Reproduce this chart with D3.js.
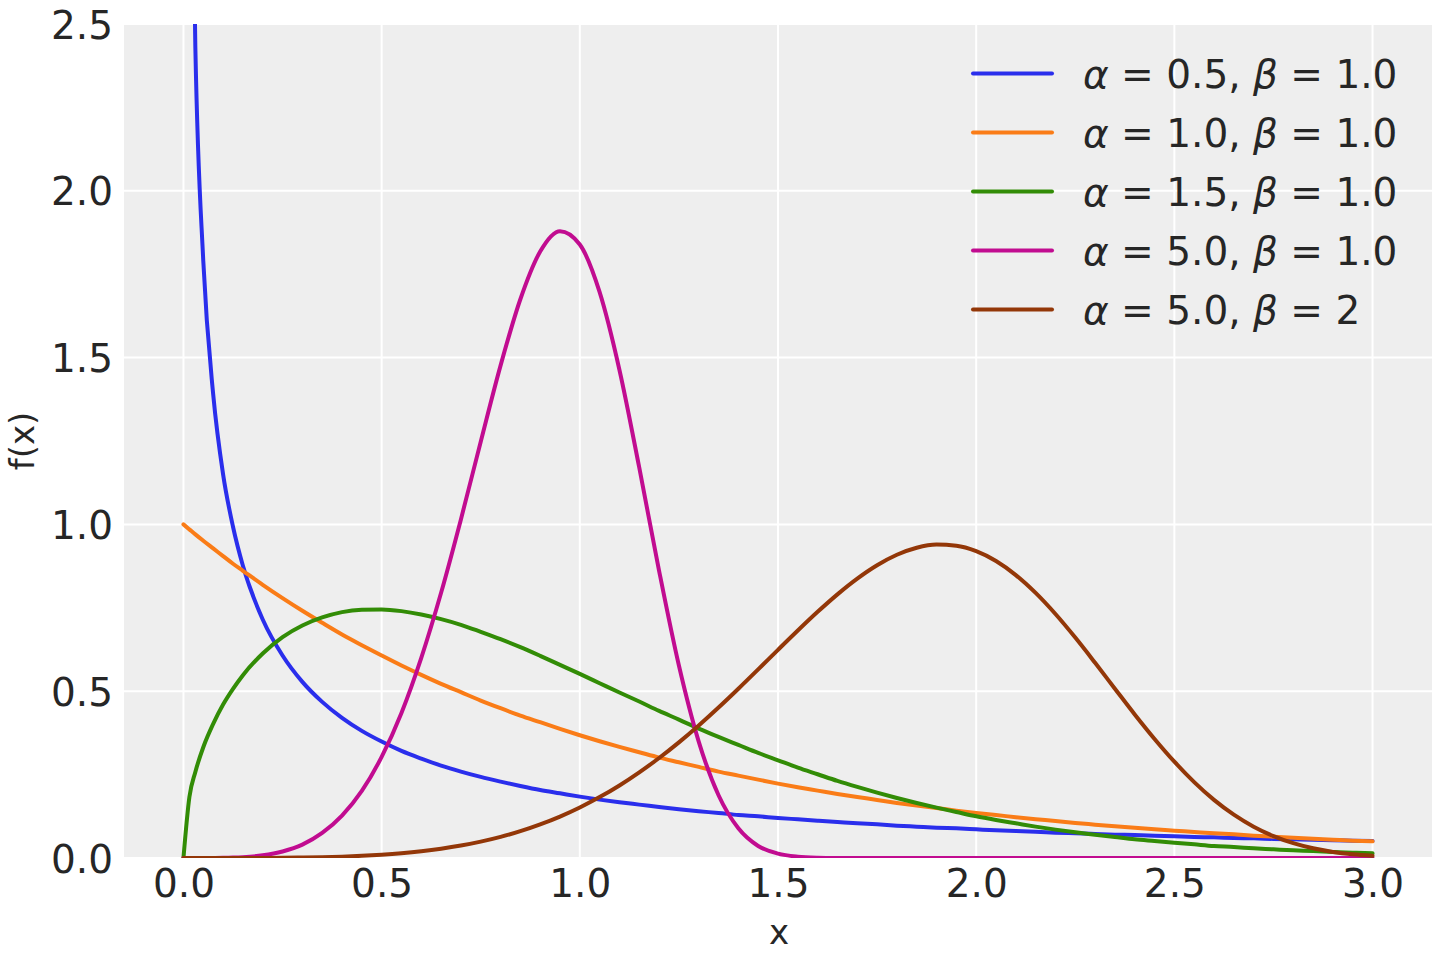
<!DOCTYPE html>
<html>
<head>
<meta charset="utf-8">
<script src="https://cdn.jsdelivr.net/npm/d3@7"></script>
<style>
  html, body { margin: 0; padding: 0; background: #fff; }
  svg { display: block; font-family: "DejaVu Sans", sans-serif; }
</style>
</head>
<body>
<svg width="1440" height="960"></svg>
<script>
// shared x positions
var xValues = [0, 0.015, 0.03, 0.05, 0.075, 0.1, 0.125, 0.15,
  0.2, 0.25, 0.3, 0.35, 0.4, 0.45, 0.5, 0.55, 0.6, 0.65, 0.7, 0.75, 0.8, 0.85, 0.9, 0.95,
  1.0, 1.05, 1.1, 1.15, 1.2, 1.25, 1.3, 1.35, 1.4, 1.45, 1.5, 1.55, 1.6, 1.65, 1.7, 1.75,
  1.8, 1.85, 1.9, 1.95, 2.0, 2.05, 2.1, 2.15, 2.2, 2.25, 2.3, 2.35, 2.4, 2.45, 2.5, 2.55,
  2.6, 2.65, 2.7, 2.75, 2.8, 2.85, 2.9, 2.95, 3.0];

var a05b1 = [null, 3.61, 2.43, 1.79, 1.39, 1.15, 0.993, 0.876,
  0.715, 0.607, 0.528, 0.468, 0.420, 0.381, 0.349, 0.321, 0.298, 0.277, 0.259, 0.243, 0.229, 0.216, 0.204, 0.194,
  0.184, 0.175, 0.167, 0.160, 0.153, 0.146, 0.140, 0.135, 0.129, 0.125, 0.120, 0.116, 0.112, 0.108, 0.104, 0.101,
  0.097, 0.094, 0.091, 0.089, 0.086, 0.083, 0.081, 0.079, 0.076, 0.074, 0.072, 0.070, 0.069, 0.067, 0.065, 0.063,
  0.062, 0.060, 0.059, 0.057, 0.056, 0.055, 0.053, 0.052, 0.051];

var a1b1 = [1.0, 0.985, 0.970, 0.951, 0.928, 0.905, 0.882, 0.861,
  0.819, 0.779, 0.741, 0.705, 0.670, 0.638, 0.607, 0.577, 0.549, 0.522, 0.497, 0.472, 0.449, 0.427, 0.407, 0.387,
  0.368, 0.350, 0.333, 0.317, 0.301, 0.287, 0.273, 0.259, 0.247, 0.235, 0.223, 0.212, 0.202, 0.192, 0.183, 0.174,
  0.165, 0.157, 0.150, 0.142, 0.135, 0.129, 0.122, 0.116, 0.111, 0.105, 0.100, 0.095, 0.091, 0.086, 0.082, 0.078,
  0.074, 0.071, 0.067, 0.064, 0.061, 0.058, 0.055, 0.052, 0.050];

var a15b1 = [0, 0.183, 0.258, 0.332, 0.402, 0.460, 0.507, 0.548,
  0.613, 0.662, 0.697, 0.721, 0.737, 0.744, 0.745, 0.740, 0.730, 0.716, 0.699, 0.678, 0.656, 0.632, 0.606, 0.579,
  0.552, 0.524, 0.496, 0.469, 0.441, 0.415, 0.388, 0.363, 0.339, 0.315, 0.293, 0.271, 0.251, 0.231, 0.213, 0.196,
  0.180, 0.165, 0.151, 0.138, 0.125, 0.114, 0.104, 0.094, 0.085, 0.077, 0.070, 0.063, 0.056, 0.051, 0.046, 0.041,
  0.036, 0.033, 0.029, 0.026, 0.023, 0.021, 0.018, 0.016, 0.014];

var a5b1 = [0, 0, 0, 0, 0.0002, 0.0005, 0.0012, 0.0025,
  0.008, 0.0195, 0.040, 0.075, 0.127, 0.201, 0.303, 0.435, 0.600, 0.795, 1.015, 1.248, 1.476, 1.675, 1.818, 1.879,
  1.839, 1.696, 1.463, 1.170, 0.861, 0.577, 0.349, 0.188, 0.089, 0.036, 0.013, 0.004, 0.001, 0.0002, 0, 0,
  0, 0, 0, 0, 0, 0, 0, 0, 0, 0, 0, 0, 0, 0, 0, 0,
  0, 0, 0, 0, 0, 0, 0, 0, 0];

var a5b2 = [0, 0, 0, 0, 0, 0, 0, 0.0001,
  0.0003, 0.0006, 0.0013, 0.0023, 0.004, 0.0064, 0.0098, 0.0143, 0.0202, 0.0278, 0.0373, 0.0491, 0.0634, 0.0804, 0.1007, 0.1242,
  0.1515, 0.1825, 0.2175, 0.2567, 0.2998, 0.3467, 0.3974, 0.4511, 0.5074, 0.5653, 0.6240, 0.6819, 0.7379, 0.7903, 0.8374, 0.8775,
  0.9089, 0.9300, 0.9394, 0.9360, 0.9197, 0.8902, 0.8481, 0.7946, 0.7314, 0.6607, 0.5851, 0.5075, 0.4303, 0.3569, 0.2887, 0.2275,
  0.1743, 0.1298, 0.0938, 0.0656, 0.0444, 0.0290, 0.0182, 0.0110, 0.0064];

var seriesNames = ["α = 0.5, β = 1.0", "α = 1.0, β = 1.0", "α = 1.5, β = 1.0", "α = 5.0, β = 1.0", "α = 5.0, β = 2"];
var seriesColors = ["#2a2eec", "#fa7c17", "#328c06", "#c10c90", "#933708"];
var xTicks = [0, 0.5, 1.0, 1.5, 2.0, 2.5, 3.0];
var yTicks = [0, 0.5, 1.0, 1.5, 2.0, 2.5];

(function() {
    var svg = d3.select('svg');
    var left = 124, right = 1432, top = 24, bottom = 858;

    var x = d3.scaleLinear().domain([-0.15, 3.15]).range([left, right]);
    var y = d3.scaleLinear().domain([0, 2.5]).range([bottom, top]);

    // background
    svg.append('rect')
        .attr('x', left).attr('y', top)
        .attr('width', right - left).attr('height', bottom - top)
        .attr('fill', '#eeeeee');

    svg.append('defs').append('clipPath').attr('id', 'plot')
        .append('rect')
        .attr('x', left).attr('y', top)
        .attr('width', right - left).attr('height', bottom - top);

    // grid
    svg.append('g').selectAll('line').data(xTicks).enter().append('line')
        .attr('x1', function(d) { return x(d); }).attr('x2', function(d) { return x(d); })
        .attr('y1', top).attr('y2', bottom)
        .attr('stroke', '#fff').attr('stroke-width', 2);
    svg.append('g').selectAll('line').data(yTicks).enter().append('line')
        .attr('x1', left).attr('x2', right)
        .attr('y1', function(d) { return y(d); }).attr('y2', function(d) { return y(d); })
        .attr('stroke', '#fff').attr('stroke-width', 2);

    // axes (labels only, no spines)
    var xAxis = svg.append('g')
        .attr('transform', 'translate(0,' + bottom + ')')
        .call(d3.axisBottom(x).tickValues(xTicks).tickFormat(d3.format('.1f')).tickSize(0).tickPadding(0));
    xAxis.select('.domain').remove();
    xAxis.selectAll('text')
        .attr('y', 39).attr('dy', 0)
        .attr('font-size', 39).attr('font-family', 'DejaVu Sans').attr('fill', '#262626');

    var yAxis = svg.append('g')
        .attr('transform', 'translate(' + left + ',0)')
        .call(d3.axisLeft(y).tickValues(yTicks).tickFormat(d3.format('.1f')).tickSize(0).tickPadding(11));
    yAxis.select('.domain').remove();
    yAxis.selectAll('text')
        .attr('dy', '0.36em')
        .attr('font-size', 39).attr('font-family', 'DejaVu Sans').attr('fill', '#262626');

    // axis titles
    svg.append('text')
        .attr('x', (left + right) / 2 + 1).attr('y', 944)
        .attr('text-anchor', 'middle')
        .attr('font-size', 34).attr('fill', '#262626')
        .text('x');
    svg.append('text')
        .attr('transform', 'translate(34,' + ((top + bottom) / 2) + ') rotate(-90)')
        .attr('text-anchor', 'middle')
        .attr('font-size', 34).attr('fill', '#262626')
        .text('f(x)');

    // lines
    var series = [a05b1, a1b1, a15b1, a5b1, a5b2];
    var line = d3.line()
        .defined(function(d) { return d[1] !== null; })
        .x(function(d) { return x(d[0]); })
        .y(function(d) { return y(d[1]); })
        .curve(d3.curveMonotoneX);

    svg.append('g').attr('clip-path', 'url(#plot)')
        .selectAll('path').data(series).enter().append('path')
        .attr('d', function(s) { return line(xValues.map(function(v, i) { return [v, s[i]]; })); })
        .attr('fill', 'none')
        .attr('stroke', function(s, i) { return seriesColors[i]; })
        .attr('stroke-width', 4)
        .attr('stroke-linecap', 'round')
        .attr('stroke-linejoin', 'round');

    // legend
    var legend = svg.append('g');
    var rows = legend.selectAll('g').data(seriesNames).enter().append('g')
        .attr('transform', function(d, i) { return 'translate(0,' + (73.5 + i * 59) + ')'; });
    rows.append('line')
        .attr('x1', 973).attr('x2', 1052).attr('y1', 0).attr('y2', 0)
        .attr('stroke', function(d, i) { return seriesColors[i]; })
        .attr('stroke-width', 4).attr('stroke-linecap', 'round');
    var txt = rows.append('text')
        .attr('x', 1083).attr('dy', '0.36em')
        .attr('font-size', 39).attr('fill', '#262626');
    txt.each(function(d) {
        var t = d3.select(this);
        var parts = d.split(/([αβ])/);
        parts.forEach(function(p) {
            if (!p) return;
            var ts = t.append('tspan').text(p);
            if (p === 'α' || p === 'β') ts.attr('font-style', 'italic');
        });
    });
})();
</script>
</body>
</html>
